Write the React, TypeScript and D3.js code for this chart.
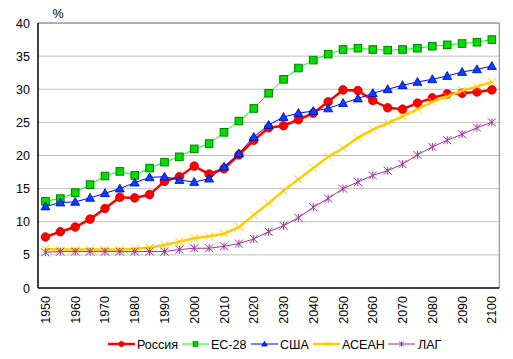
import React from "react";
import * as d3 from "d3";

const years = [1950,1955,1960,1965,1970,1975,1980,1985,1990,1995,2000,2005,2010,2015,2020,2025,2030,2035,2040,2045,2050,2055,2060,2065,2070,2075,2080,2085,2090,2095,2100];
const russia = [7.7,8.5,9.2,10.4,12.0,13.7,13.6,14.1,16.1,16.8,18.4,17.2,18.0,20.1,22.3,24.2,24.5,25.4,26.4,28.1,29.9,29.8,28.3,27.2,27.0,27.9,28.7,29.3,29.4,29.6,29.9];
const eu28 = [13.1,13.5,14.4,15.6,16.9,17.6,17.0,18.1,19.0,19.8,21.0,21.8,23.5,25.2,27.1,29.4,31.5,33.2,34.4,35.3,36.0,36.2,36.0,35.9,36.0,36.2,36.5,36.7,36.9,37.1,37.5];
const usa = [12.3,12.9,13.0,13.6,14.3,15.0,15.9,16.7,16.8,16.3,16.0,16.5,18.3,20.3,22.8,24.6,25.8,26.4,26.7,27.1,27.9,28.6,29.4,30.0,30.6,31.1,31.5,32.0,32.6,33.0,33.5];
const asean = [5.9,5.8,5.8,5.8,5.8,5.8,5.9,6.1,6.5,7.0,7.5,7.8,8.2,9.2,11.0,12.8,14.7,16.4,18.1,19.8,21.1,22.7,23.9,24.9,25.9,27.0,28.1,28.9,29.8,30.4,31.1];
const lag = [5.4,5.5,5.5,5.5,5.5,5.5,5.5,5.5,5.5,5.8,6.0,6.0,6.3,6.7,7.4,8.5,9.4,10.6,12.2,13.5,15.0,16.0,17.0,17.7,18.7,20.1,21.3,22.3,23.2,24.2,25.0];
const yTicks = [0,5,10,15,20,25,30,35,40];
const xLabels = [1950,1960,1970,1980,1990,2000,2010,2020,2030,2040,2050,2060,2070,2080,2090,2100];

const seriesDefs = [
  { name: "Россия", values: russia, color: "#ff0000", width: 2.5, marker: "circle", fill: "#ff0000", stroke: "#cc0000" },
  { name: "ЕС-28", values: eu28, color: "#00ff00", width: 1, marker: "square", fill: "#00dd00", stroke: "#008000" },
  { name: "США", values: usa, color: "#0000ff", width: 1, marker: "triangle", fill: "#0044ff", stroke: "#0000aa" },
  { name: "АСЕАН", values: asean, color: "#ffcc00", width: 2.5, marker: "x", fill: "none", stroke: "#ffcc00" },
  { name: "ЛАГ", values: lag, color: "#993399", width: 1, marker: "star", fill: "none", stroke: "#993399" },
];

function Marker({ type, x, y, fill, stroke, s = 1 }: any) {
  if (type === "circle") return <circle cx={x} cy={y} r={4.3 * s} fill={fill} stroke={stroke} strokeWidth={0.8} />;
  if (type === "square") return <rect x={x - 3.8 * s} y={y - 3.8 * s} width={7.6 * s} height={7.6 * s} fill={fill} stroke={stroke} strokeWidth={1} />;
  if (type === "triangle") {
    const r = 4.5 * s;
    return <path d={`M${x},${y - r}L${x + r},${y + r * 0.75}L${x - r},${y + r * 0.75}Z`} fill={fill} stroke={stroke} strokeWidth={0.8} />;
  }
  if (type === "x") {
    const r = 4 * s;
    return <path d={`M${x - r},${y - r}L${x + r},${y + r}M${x - r},${y + r}L${x + r},${y - r}`} stroke={stroke} strokeWidth={1} fill="none" />;
  }
  const r = 4 * s;
  return <path d={`M${x - r},${y - r}L${x + r},${y + r}M${x - r},${y + r}L${x + r},${y - r}M${x},${y - r}L${x},${y + r}`} stroke={stroke} strokeWidth={1} fill="none" />;
}

export default function App() {
  const W = 513, H = 359;
  const left = 38, right = 499.3, top = 23, bottom = 288;
  const x = d3.scaleBand<number>().domain(years).range([left, right]);
  const cx = (yr: number) => (x(yr) as number) + x.bandwidth() / 2;
  const y = d3.scaleLinear().domain([0, 40]).range([bottom, top]);
  const line = d3.line<number>().x((_, i) => cx(years[i])).y((v) => y(v));
  const font = "'Liberation Sans', Arial, sans-serif";

  const legendItems = [
    { def: seriesDefs[0], lx: 108, tx: 137 },
    { def: seriesDefs[1], lx: 182, tx: 211 },
    { def: seriesDefs[2], lx: 251, tx: 280 },
    { def: seriesDefs[3], lx: 313, tx: 342 },
    { def: seriesDefs[4], lx: 388, tx: 418 },
  ];

  return (
    <svg width={W} height={H} style={{ position: "absolute", left: 0, top: 0, background: "#fff" }} fontFamily={font}>
      <rect x={0} y={0} width={W} height={H} fill="#fff" />
      {yTicks.filter((t) => t > 0).map((t) => (
        <line key={t} x1={left} x2={right} y1={y(t)} y2={y(t)} stroke="#c0c0c0" strokeWidth={1} />
      ))}
      <line x1={left} x2={right} y1={top} y2={top} stroke="#808080" />
      <line x1={right} x2={right} y1={top} y2={bottom} stroke="#808080" />
      <line x1={left} x2={left} y1={top} y2={bottom} stroke="#000" strokeWidth={1.5} />
      <line x1={left} x2={right} y1={bottom} y2={bottom} stroke="#000" strokeWidth={1.5} />
      {yTicks.map((t) => (
        <text key={t} x={30} y={y(t) + 4.5} textAnchor="end" fontSize={12.5} fill="#000">{t}</text>
      ))}
      <text x={58} y={18} textAnchor="middle" fontSize={12.5}>%</text>
      {xLabels.map((yr) => (
        <text key={yr} transform={`translate(${cx(yr) + 4.5},${296}) rotate(-90)`} textAnchor="end" fontSize={12.5}>{yr}</text>
      ))}
      {seriesDefs.map((s) => (
        <g key={s.name}>
          <path d={line(s.values) as string} fill="none" stroke={s.color} strokeWidth={s.width} />
          {s.values.map((v, i) => (
            <Marker key={i} type={s.marker} x={cx(years[i])} y={y(v)} fill={s.fill} stroke={s.stroke} />
          ))}
        </g>
      ))}
      {legendItems.map(({ def, lx, tx }) => (
        <g key={def.name}>
          <line x1={lx} x2={lx + 27} y1={344} y2={344} stroke={def.color} strokeWidth={def.width} />
          <Marker type={def.marker} x={lx + 13.5} y={344} fill={def.fill} stroke={def.stroke} s={0.6} />
          <text x={tx} y={348.5} fontSize={12.5}>{def.name}</text>
        </g>
      ))}
    </svg>
  );
}
